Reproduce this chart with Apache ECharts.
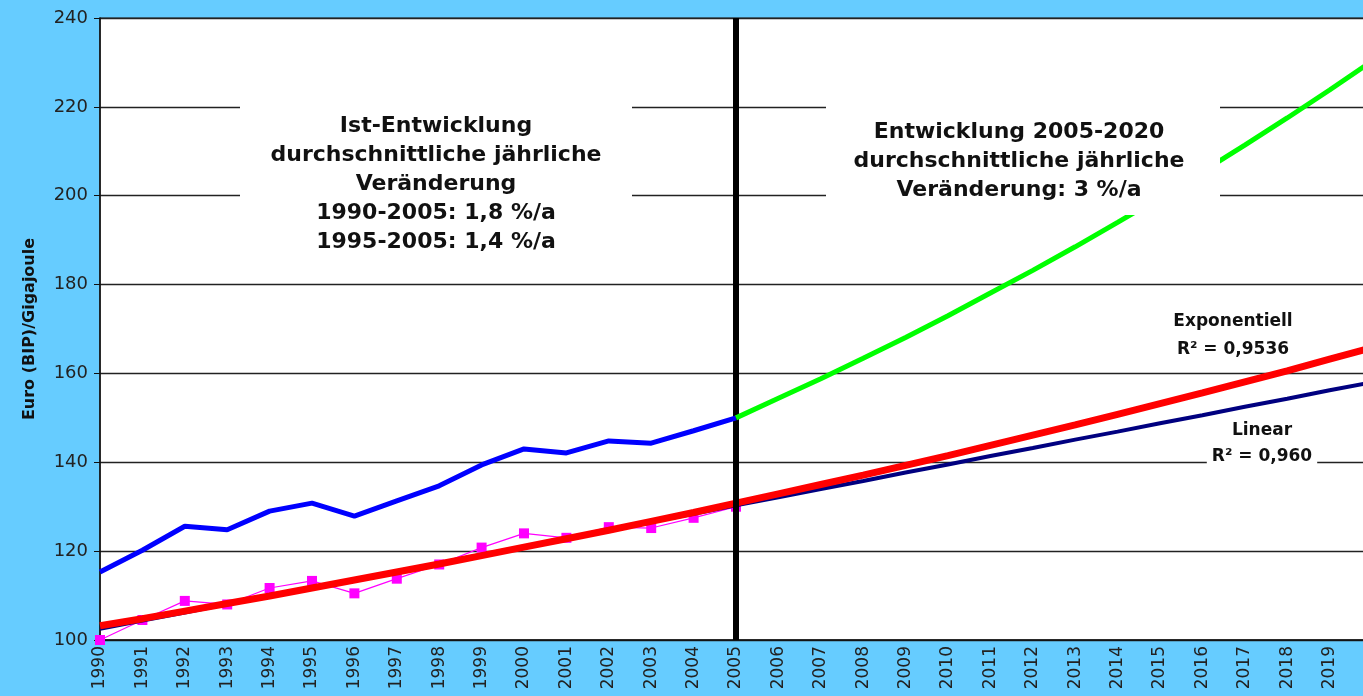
<!DOCTYPE html>
<html>
<head>
<meta charset="utf-8">
<title>Euro (BIP)/Gigajoule</title>
<script src="https://cdn.jsdelivr.net/npm/echarts@6/dist/echarts.min.js"></script>
<style>
    html, body { margin: 0; padding: 0; background: #66CCFF; }
    #main { width: 1363px; height: 696px; }
</style>
</head>
<body>
<div id="main"></div>
<script>
// Jahre (Kategorien)
var years = ['1990', '1991', '1992', '1993', '1994', '1995', '1996', '1997', '1998', '1999',
    '2000', '2001', '2002', '2003', '2004', '2005', '2006', '2007', '2008', '2009',
    '2010', '2011', '2012', '2013', '2014', '2015', '2016', '2017', '2018', '2019', '2020'];

// Ist-Entwicklung (blau)
var istWerte = [115.3, 120.2, 125.6, 124.8, 129.0, 130.8, 127.9, 131.3, 134.7, 139.4,
    143.0, 142.1, 144.8, 144.3, 147.1, 150.0];

// Index (magenta Quadrate)
var indexWerte = [100.0, 104.5, 108.8, 108.0, 111.7, 113.3, 110.5, 113.8, 117.0, 120.8,
    124.0, 123.0, 125.4, 125.2, 127.5, 130.0];

// Entwicklung 2005-2020 (grün), ab 2005
var prognoseWerte = [150.0, 154.4, 158.8, 163.4, 168.1, 173.0, 178.1, 183.2, 188.5, 194.0,
    199.6, 205.4, 211.4, 217.5, 223.8, 230.3];

// Trend exponentiell (rot)
var trendExp = [103.2, 104.8, 106.5, 108.2, 109.9, 111.7, 113.5, 115.3, 117.1, 119.0,
    120.9, 122.8, 124.7, 126.7, 128.7, 130.8, 132.9, 135.0, 137.1, 139.3,
    141.5, 143.8, 146.1, 148.4, 150.8, 153.2, 155.6, 158.1, 160.6, 163.2, 165.8];

// Trend linear (dunkelblau)
var trendLin = [102.5, 104.4, 106.2, 108.1, 109.9, 111.8, 113.6, 115.5, 117.3, 119.2,
    121.0, 122.9, 124.7, 126.6, 128.4, 130.3, 132.1, 134.0, 135.8, 137.7,
    139.5, 141.4, 143.2, 145.1, 146.9, 148.8, 150.6, 152.5, 154.3, 156.2, 158.0];

// Y-Achse
var yMin = 100, yMax = 240, yStep = 20;

// grüne Reihe beginnt erst 2005
var startIdx = years.indexOf('2005');
var gruenDaten = years.map(function (y, i) {
    return i < startIdx ? null : prognoseWerte[i - startIdx];
});

var font = '"DejaVu Sans", Arial, sans-serif';

var myChart = echarts.init(document.getElementById('main'));

var option = {
    backgroundColor: '#66CCFF',
    animation: false,
    grid: {
        left: 100,
        top: 18,
        width: 1272,
        height: 622,
        outerBoundsMode: 'none',
        containLabel: false,
        show: true,
        backgroundColor: '#ffffff',
        borderColor: '#222',
        borderWidth: 1.2
    },
    xAxis: {
        type: 'category',
        data: years,
        boundaryGap: false,
        axisLine: { lineStyle: { color: '#111', width: 1.5 } },
        axisTick: { show: false },
        axisLabel: {
            rotate: 90,
            interval: 0,
            margin: 6,
            fontSize: 17,
            fontFamily: font,
            color: '#222'
        },
        splitLine: { show: false }
    },
    yAxis: {
        type: 'value',
        min: yMin,
        max: yMax,
        interval: yStep,
        name: 'Euro (BIP)/Gigajoule',
        nameLocation: 'middle',
        nameGap: 62,
        nameTextStyle: {
            fontSize: 16,
            fontWeight: 'bold',
            fontFamily: font,
            color: '#111'
        },
        axisLine: { show: true, lineStyle: { color: '#111', width: 1.5 } },
        axisTick: { show: true, length: 6, lineStyle: { color: '#111' } },
        axisLabel: {
            fontSize: 18,
            fontFamily: font,
            color: '#222',
            margin: 12
        },
        splitLine: { show: true, lineStyle: { color: '#222', width: 1.4 } }
    },
    series: [
        {
            name: 'Index',
            type: 'line',
            data: indexWerte,
            symbol: 'rect',
            symbolSize: 10,
            itemStyle: { color: '#FF00FF' },
            lineStyle: { color: '#FF00FF', width: 1.2 },
            z: 2
        },
        {
            name: 'Linear',
            type: 'line',
            data: trendLin,
            symbol: 'none',
            lineStyle: { color: '#000080', width: 4 },
            z: 3
        },
        {
            name: 'Exponentiell',
            type: 'line',
            data: trendExp,
            symbol: 'none',
            lineStyle: { color: '#FF0000', width: 7 },
            z: 4
        },
        {
            name: 'Ist-Entwicklung',
            type: 'line',
            data: istWerte,
            symbol: 'none',
            lineStyle: { color: '#0000FF', width: 5 },
            z: 5,
            markLine: {
                silent: true,
                symbol: 'none',
                label: { show: false },
                lineStyle: { color: '#000', width: 6, type: 'solid' },
                data: [{ xAxis: '2005' }]
            }
        },
        {
            name: 'Entwicklung 2005-2020',
            type: 'line',
            data: gruenDaten,
            symbol: 'none',
            lineStyle: { color: '#00FF00', width: 5 },
            z: 5
        }
    ],
    graphic: [
        // weiße Textfelder über den Gitterlinien
        {
            type: 'rect',
            z: 100,
            shape: { x: 240, y: 95, width: 392, height: 165 },
            style: { fill: '#ffffff' }
        },
        {
            type: 'text',
            z: 101,
            style: {
                x: 436,
                y: 184,
                text: 'Ist-Entwicklung\ndurchschnittliche jährliche\nVeränderung\n1990-2005: 1,8 %/a\n1995-2005: 1,4 %/a',
                align: 'center',
                verticalAlign: 'middle',
                font: 'bold 22px ' + font,
                lineHeight: 29,
                fill: '#111'
            }
        },
        {
            type: 'rect',
            z: 100,
            shape: { x: 826, y: 95, width: 394, height: 120 },
            style: { fill: '#ffffff' }
        },
        {
            type: 'text',
            z: 101,
            style: {
                x: 1019,
                y: 161,
                text: 'Entwicklung 2005-2020\ndurchschnittliche jährliche\nVeränderung: 3 %/a',
                align: 'center',
                verticalAlign: 'middle',
                font: 'bold 22px ' + font,
                lineHeight: 29,
                fill: '#111'
            }
        },
        {
            type: 'text',
            z: 101,
            style: {
                x: 1233,
                y: 336,
                text: 'Exponentiell\nR² = 0,9536',
                align: 'center',
                verticalAlign: 'middle',
                font: 'bold 17px ' + font,
                lineHeight: 28,
                fill: '#111',
                backgroundColor: '#ffffff',
                padding: [0, 4]
            }
        },
        {
            type: 'text',
            z: 101,
            style: {
                x: 1262,
                y: 444,
                text: 'Linear\nR² = 0,960',
                align: 'center',
                verticalAlign: 'middle',
                font: 'bold 17px ' + font,
                lineHeight: 26,
                fill: '#111',
                backgroundColor: '#ffffff',
                padding: [0, 5, 0, 5]
            }
        }
    ]
};

myChart.setOption(option);

window.onresize = function () {
    myChart.resize();
};
</script>
</body>
</html>
